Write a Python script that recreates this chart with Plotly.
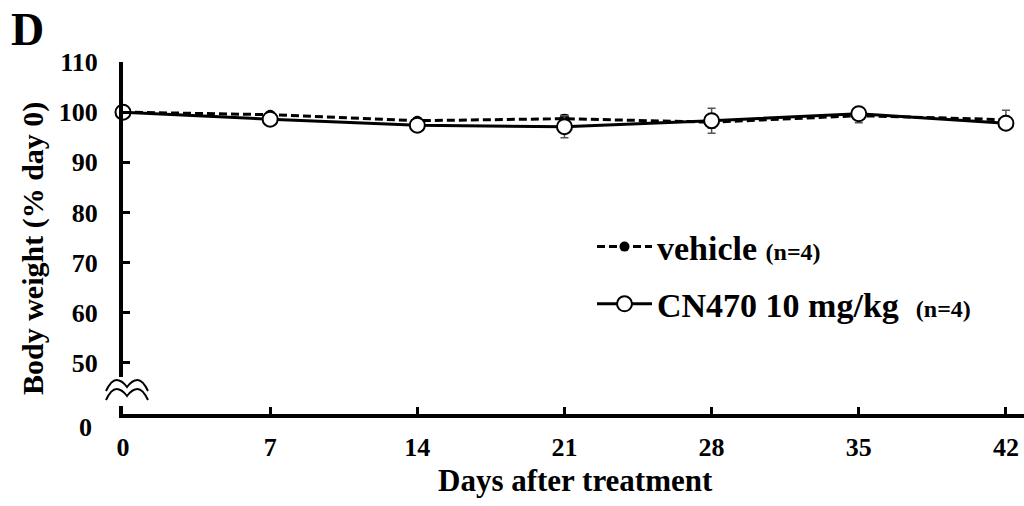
import plotly.graph_objects as go

# Body weight time course (% of day 0), mean ± SD
days = [0, 7, 14, 21, 28, 35, 42]
vehicle_mean = [100.0, 99.5, 98.3, 98.7, 98.0, 99.3, 98.5]
vehicle_sd = [0.0, 0.5, 0.6, 0.8, 1.2, 1.4, 1.9]
cn470_mean = [100.0, 98.6, 97.4, 97.1, 98.3, 99.7, 97.8]
cn470_sd = [0.0, 0.4, 0.8, 2.2, 2.5, 0.6, 0.8]

x_ticks = [0, 7, 14, 21, 28, 35, 42]
y_ticks = [50, 60, 70, 80, 90, 100, 110]

FONT = "Liberation Serif"
W, H = 1024, 506
L, R, T, B = 123, 1024, 62, 414


def px_x(px):
    return (px - L) / (R - L)


def px_y(py):
    return (B - py) / (B - T)


fig = go.Figure()

fig.add_trace(go.Scatter(
    x=days, y=vehicle_mean,
    name="vehicle <span style='font-size:24px'>(n=4)</span>",
    legendgroup="veh",
    mode="lines+markers",
    line=dict(color="black", width=3, dash="8px,4px"),
    marker=dict(symbol="circle", size=10, color="black"),
    error_y=dict(type="data", array=vehicle_sd, color="#555555", thickness=1.5, width=4),
    cliponaxis=False,
))

fig.add_trace(go.Scatter(
    x=days, y=cn470_mean,
    name="CN470 10 mg/kg\u00a0 <span style='font-size:24px'>(n=4)</span>",
    legendgroup="cn",
    mode="lines+markers",
    line=dict(color="black", width=3),
    marker=dict(symbol="circle", size=15, color="white", line=dict(color="black", width=2)),
    error_y=dict(type="data", array=cn470_sd, color="#555555", thickness=1.5, width=4),
    cliponaxis=False,
))

# Axis break on the y axis: white gap plus a double wave
shapes = [
    dict(type="rect", xref="paper", yref="paper",
         x0=px_x(104), x1=px_x(150), y0=px_y(406), y1=px_y(377),
         fillcolor="white", line=dict(width=0), layer="above"),
]
for dy in (0, 9):
    y_lo = px_y(391 + dy)
    y_hi = px_y(380 + dy)
    y_mid = px_y(387 + dy)
    xs = [px_x(v) for v in (106, 116.5, 127, 137.5, 148)]
    path = (f"M{xs[0]},{y_lo} Q{(xs[0]+xs[1])/2},{y_hi} {xs[1]},{y_hi} "
            f"Q{(xs[1]+xs[2])/2},{y_hi} {xs[2]},{y_mid} "
            f"Q{(xs[2]+xs[3])/2},{y_hi} {xs[3]},{y_hi} "
            f"Q{(xs[3]+xs[4])/2},{y_hi} {xs[4]},{y_lo}")
    shapes.append(dict(type="path", xref="paper", yref="paper", path=path,
                       line=dict(color="black", width=2), layer="above"))

annotations = [
    dict(text="<b>D</b>", x=px_x(27), y=px_y(29), xref="paper", yref="paper",
         showarrow=False, font=dict(family=FONT, size=46, color="black"),
         xanchor="center", yanchor="middle"),
    dict(text="<b>0</b>", x=px_x(85), y=px_y(427), xref="paper", yref="paper",
         showarrow=False, font=dict(family=FONT, size=26, color="black"),
         xanchor="center", yanchor="middle"),
    dict(text="<b>Days after treatment</b>", x=px_x(575), y=px_y(480),
         xref="paper", yref="paper", showarrow=False,
         font=dict(family=FONT, size=31, color="black"),
         xanchor="center", yanchor="middle"),
    dict(text="<b>Body weight (% day 0)</b>", x=px_x(33), y=px_y(249),
         xref="paper", yref="paper", showarrow=False, textangle=-90,
         font=dict(family=FONT, size=30, color="black"),
         xanchor="center", yanchor="middle"),
]

fig.update_layout(
    width=W, height=H,
    margin=dict(l=L, r=W - R, t=T, b=H - B),
    paper_bgcolor="white", plot_bgcolor="white",
    showlegend=True,
    legend=dict(
        x=px_x(592), y=px_y(218), xanchor="left", yanchor="top",
        font=dict(family=FONT, size=34, color="black", weight="bold"),
        itemwidth=55, tracegroupgap=10, bgcolor="rgba(0,0,0,0)",
    ),
    shapes=shapes,
    annotations=annotations,
    xaxis=dict(
        range=[0, 42.86], tickvals=x_ticks, ticktext=[str(v) for v in x_ticks],
        showgrid=False, zeroline=False,
        showline=True, linecolor="black", linewidth=4,
        ticks="inside", ticklen=7, tickwidth=3, tickcolor="black",
        tickfont=dict(family=FONT, size=26, color="black", weight="bold"),
        ticklabelstandoff=7,
    ),
    yaxis=dict(
        range=[39.83, 110], tickvals=y_ticks, ticktext=[str(v) for v in y_ticks],
        showgrid=False, zeroline=False,
        showline=True, linecolor="black", linewidth=4,
        ticks="inside", ticklen=7, tickwidth=3, tickcolor="black",
        tickfont=dict(family=FONT, size=26, color="black", weight="bold"),
        ticklabelstandoff=16,
    ),
)

fig.write_html("out.html")
